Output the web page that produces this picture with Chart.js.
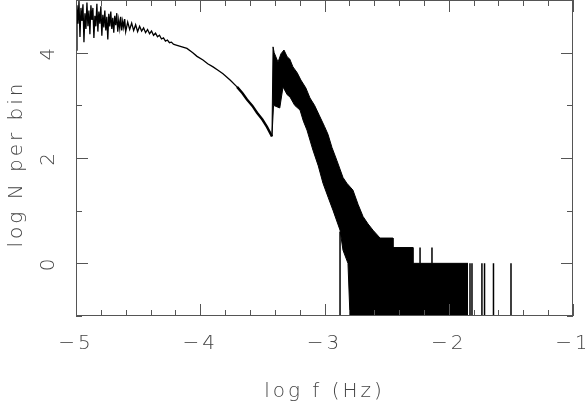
<!DOCTYPE html>
<html>
<head>
<meta charset="utf-8">
<script src="https://cdn.jsdelivr.net/npm/chart.js@4.4.0/dist/chart.umd.min.js"></script>
<style>
  html, body { margin: 0; padding: 0; background: #fff; }
</style>
</head>
<body>
<canvas id="chart" width="585" height="406"></canvas>
<script>
// low-frequency part of the histogram: log f (Hz) vs log N per bin
const lowX = [-5, -4.992, -4.984, -4.976, -4.968, -4.96, -4.952, -4.944, -4.936, -4.928,
  -4.92, -4.912, -4.904, -4.896, -4.888, -4.88, -4.872, -4.864, -4.856, -4.848,
  -4.84, -4.832, -4.824, -4.816, -4.808, -4.8, -4.792, -4.784, -4.776, -4.768,
  -4.76, -4.752, -4.744, -4.736, -4.728, -4.72, -4.712, -4.704, -4.696, -4.688,
  -4.68, -4.672, -4.664, -4.656, -4.648, -4.64, -4.632, -4.624, -4.616, -4.608, -4.6,
  -4.584, -4.568, -4.552, -4.536, -4.52, -4.504, -4.488, -4.472, -4.456, -4.44,
  -4.424, -4.408, -4.392, -4.376, -4.36, -4.344, -4.328, -4.312, -4.296, -4.28,
  -4.264, -4.248, -4.232, -4.216, -4.2,
  -4.16, -4.107, -4.06, -4.026, -3.978, -3.94, -3.897, -3.86, -3.817, -3.76,
  -3.704, -3.66, -3.624, -3.58, -3.543, -3.5, -3.463, -3.423];
const lowY = [4.05, 4.90, 4.55, 4.98, 4.30, 4.85, 4.60, 4.92, 4.20, 4.75,
  4.45, 4.95, 4.50, 4.80, 4.35, 4.90, 4.62, 4.85, 4.28, 4.70,
  4.50, 4.93, 4.40, 4.78, 4.55, 4.88, 4.32, 4.72, 4.48, 4.80,
  4.42, 4.68, 4.25, 4.74, 4.50, 4.78, 4.45, 4.66, 4.38, 4.70,
  4.52, 4.75, 4.40, 4.62, 4.46, 4.68, 4.42, 4.60, 4.48, 4.64, 4.40,
  4.58, 4.44, 4.56, 4.42, 4.53, 4.40, 4.50, 4.41, 4.47, 4.38,
  4.44, 4.36, 4.41, 4.33, 4.37, 4.30, 4.33, 4.26, 4.28, 4.22,
  4.24, 4.19, 4.20, 4.16, 4.15,
  4.12, 4.08, 4.00, 3.93, 3.86, 3.79, 3.73, 3.67, 3.60, 3.48,
  3.35, 3.23, 3.11, 2.99, 2.86, 2.73, 2.59, 2.41];

// high-frequency noisy band: upper edge
const bandTopX = [-3.423, -3.414, -3.405, -3.374, -3.35, -3.326, -3.3, -3.28, -3.254, -3.22,
  -3.19, -3.15, -3.117, -3.08, -3.04, -3.0, -2.972, -2.94, -2.9, -2.851,
  -2.82, -2.771, -2.73, -2.69, -2.65, -2.61, -2.553, -2.449, -2.449, -2.288,
  -2.288, -1.845];
const bandTopY = [2.41, 4.11, 4.0, 3.82, 3.98, 4.05, 3.92, 3.88, 3.73, 3.62,
  3.48, 3.33, 3.14, 3.0, 2.8, 2.6, 2.45, 2.2, 1.95, 1.63,
  1.52, 1.39, 1.12, 0.89, 0.75, 0.63, 0.48, 0.48, 0.30, 0.30,
  0, 0];

// lower edge (empty bins are drawn at the bottom of the plot)
const bandBotX = [-3.423, -3.41, -3.36, -3.334, -3.3, -3.278, -3.24, -3.197, -3.17, -3.141,
  -3.093, -3.05, -3.012, -2.97, -2.932, -2.875, -2.851, -2.811, -2.795, -1.845];
const bandBotY = [2.41, 3.0, 2.95, 3.35, 3.2, 3.16, 3.0, 2.91, 2.7, 2.53,
  2.15, 1.85, 1.52, 1.25, 1.01, 0.63, 0.25, 0, -1, -1];

// isolated single bins
const spikeX = [-2.875, -1.829, -1.813, -1.733, -1.712, -1.64, -1.499, -2.231, -2.135];
const spikeTop = [0.6, 0, 0, 0, 0, 0, 0, 0.30, 0.30];
const spikeBottom = [-1, -1, -1, -1, -1, -1, -1, 0, 0];

// axis labels
const xTickLabels = [-5, -4, -3, -2, -1];
const yTickLabels = [0, 2, 4];

const toPoints = (xs, ys) => xs.map((x, i) => ({ x: x, y: ys[i] }));

const spikePoints = [];
spikeX.forEach((x, i) => {
  spikePoints.push({ x: x, y: spikeBottom[i] }, { x: x, y: spikeTop[i] }, { x: x, y: null });
});

const FONT = '200 20px "DejaVu Sans"';
const TEXT = '#444';

function fmt(v) {
  return v < 0 ? '\u2212' + Math.abs(v) : String(v);
}

// box, inward ticks on all sides, tick labels and titles
const framePlugin = {
  id: 'frame',
  afterDraw(chart) {
    const { ctx, chartArea: a, scales: { x, y } } = chart;
    ctx.save();
    ctx.strokeStyle = '#555';
    ctx.lineWidth = 1;
    ctx.strokeRect(a.left + 0.5, a.top + 0.5, a.right - a.left - 1, a.bottom - a.top - 1);

    ctx.beginPath();
    for (let i = 0; i <= 20; i++) {
      const px = Math.round(x.getPixelForValue(-5 + i * 0.2)) + 0.5;
      const len = i % 5 === 0 ? 12 : 6;
      ctx.moveTo(px, a.bottom); ctx.lineTo(px, a.bottom - len);
      ctx.moveTo(px, a.top); ctx.lineTo(px, a.top + len);
    }
    for (let v = -1; v <= 5; v++) {
      const py = Math.round(y.getPixelForValue(v)) + 0.5;
      const len = v % 2 === 0 ? 12 : 6;
      ctx.moveTo(a.left, py); ctx.lineTo(a.left + len, py);
      ctx.moveTo(a.right, py); ctx.lineTo(a.right - len, py);
    }
    ctx.stroke();

    ctx.fillStyle = TEXT;
    ctx.font = FONT;
    ctx.letterSpacing = '3px';
    ctx.textAlign = 'center';
    ctx.textBaseline = 'alphabetic';
    xTickLabels.forEach(v => {
      ctx.fillText(fmt(v), x.getPixelForValue(v), 349);
    });
    yTickLabels.forEach(v => {
      ctx.save();
      ctx.translate(49, y.getPixelForValue(v));
      ctx.rotate(-Math.PI / 2);
      ctx.textBaseline = 'middle';
      ctx.fillText(fmt(v), 0, 0);
      ctx.restore();
    });

    ctx.fillText('log f (Hz)', (a.left + a.right) / 2, 397);
    ctx.save();
    ctx.translate(22, 164);
    ctx.rotate(-Math.PI / 2);
    ctx.fillText('log N per bin', 0, 0);
    ctx.restore();
    ctx.restore();
  }
};

const ctx = document.getElementById('chart').getContext('2d');

new Chart(ctx, {
  type: 'line',
  data: {
    datasets: [
      {
        data: toPoints(lowX, lowY),
        borderColor: '#000',
        borderWidth: 1.3,
        pointRadius: 0,
        fill: false,
        // the curve gets thicker just before the jump
        segment: {
          borderWidth: c => (c.p0.parsed.x > -3.75 ? 2.4 : undefined)
        }
      },
      {
        data: toPoints(bandTopX, bandTopY),
        borderColor: '#000',
        borderWidth: 1,
        pointRadius: 0,
        fill: false
      },
      {
        data: toPoints(bandBotX, bandBotY),
        borderColor: '#000',
        backgroundColor: '#000',
        borderWidth: 1,
        pointRadius: 0,
        fill: '-1'
      },
      {
        data: spikePoints,
        borderColor: '#000',
        borderWidth: 1.5,
        pointRadius: 0,
        spanGaps: false,
        fill: false
      }
    ]
  },
  options: {
    responsive: false,
    animation: false,
    devicePixelRatio: 1,
    layout: { padding: { top: 0, right: 12, left: 0, bottom: 0 } },
    scales: {
      x: {
        type: 'linear',
        min: -5,
        max: -1,
        ticks: { display: false },
        grid: { display: false },
        border: { display: false },
        afterFit(s) { s.height = 90; }
      },
      y: {
        type: 'linear',
        min: -1,
        max: 5,
        ticks: { display: false },
        grid: { display: false },
        border: { display: false },
        afterFit(s) { s.width = 76; }
      }
    },
    plugins: {
      legend: { display: false },
      tooltip: { enabled: false }
    }
  },
  plugins: [framePlugin]
});
</script>
</body>
</html>
